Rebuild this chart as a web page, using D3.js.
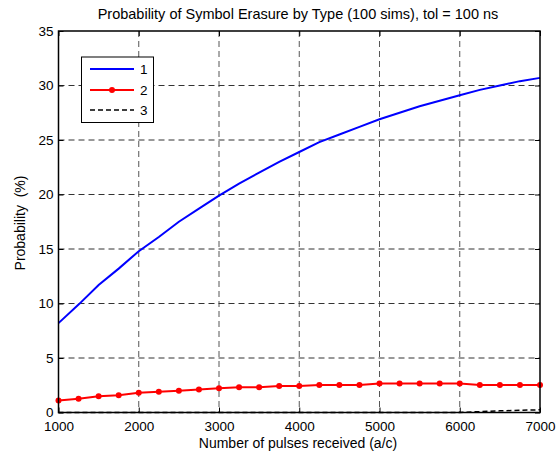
<!DOCTYPE html>
<html><head><meta charset="utf-8">
<script src="https://cdn.jsdelivr.net/npm/d3@7"></script>
<style>body{margin:0;background:#fff}svg{display:block}text{font-family:"Liberation Sans",Arial,sans-serif}</style>
</head><body><svg id="c" width="557" height="453"></svg>
<script>
const xVals = [1000,1250,1500,1750,2000,2250,2500,2750,3000,3250,3500,3750,4000,4250,4500,4750,5000,5250,5500,5750,6000,6250,6500,6750,7000];
const series1 = [8.2,9.9,11.7,13.2,14.8,16.1,17.5,18.7,19.9,21.0,22.0,23.0,23.9,24.8,25.5,26.2,26.9,27.5,28.1,28.6,29.1,29.6,30.0,30.4,30.7];
const series2 = [1.09,1.27,1.48,1.58,1.82,1.91,2.0,2.12,2.22,2.31,2.31,2.43,2.43,2.53,2.53,2.53,2.65,2.65,2.65,2.65,2.65,2.53,2.53,2.53,2.53];
const series3 = [0,0,0,0,0,0,0,0,0,0,0,0,0,0,0,0,0,0,0,0,0,0.08,0.15,0.2,0.25];
const xTicks = [1000,2000,3000,4000,5000,6000,7000];
const yTicks = [0,5,10,15,20,25,30,35];
const legendLabels = ["1","2","3"];
const titleText = "Probability of Symbol Erasure by Type (100 sims), tol = 100 ns";
const xLabel = "Number of pulses received (a/c)";
const yLabel = "Probability  (%)";

const svg = d3.select("#c");
const L=58.5, R=540, T=31, B=412.5;
const x = d3.scaleLinear().domain([1000,7000]).range([L,R]);
const y = d3.scaleLinear().domain([0,35]).range([B,T]);

// grid
const g = svg.append("g");
g.selectAll(".vg").data(xTicks.slice(1,-1)).join("line")
 .attr("x1",d=>x(d)).attr("x2",d=>x(d)).attr("y1",T).attr("y2",B)
 .attr("stroke","#555").attr("stroke-width",1).attr("stroke-dasharray","6,4");
g.selectAll(".hg").data(yTicks.slice(1,-1)).join("line")
 .attr("y1",d=>y(d)).attr("y2",d=>y(d)).attr("x1",L).attr("x2",R)
 .attr("stroke","#333").attr("stroke-width",1).attr("stroke-dasharray","6,4");

// axes
const fs = "13.5px";
const ax = svg.append("g").attr("transform",`translate(0,${B})`).call(d3.axisBottom(x).tickValues(xTicks).tickSize(-5).tickFormat(d3.format("d")));
const ay = svg.append("g").attr("transform",`translate(${L},0)`).call(d3.axisLeft(y).tickValues(yTicks).tickSize(-5).tickPadding(5));
const at = svg.append("g").attr("transform",`translate(0,${T})`).call(d3.axisTop(x).tickValues(xTicks).tickSize(-5).tickFormat(""));
const ar = svg.append("g").attr("transform",`translate(${R},0)`).call(d3.axisRight(y).tickValues(yTicks).tickSize(-5).tickFormat(""));
[ax,ay,at,ar].forEach(a=>{a.select(".domain").remove();a.selectAll("line").attr("stroke","#000");a.selectAll("text").attr("font-size",fs).attr("fill","#000").attr("font-family","Liberation Sans, Arial, sans-serif");});
ax.selectAll("text").attr("y",18.5).attr("dy",0);

// lines
const line = d3.line().x((d,i)=>x(xVals[i])).y(d=>y(d));
svg.append("path").datum(series3).attr("d",line).attr("fill","none").attr("stroke","#000").attr("stroke-width",1.5).attr("stroke-dasharray","5,3");
svg.append("path").datum(series1).attr("d",line).attr("fill","none").attr("stroke","#0000ff").attr("stroke-width",2);
svg.append("path").datum(series2).attr("d",line).attr("fill","none").attr("stroke","#ff0000").attr("stroke-width",2);
svg.selectAll(".m").data(series2).join("circle").attr("cx",(d,i)=>x(xVals[i])).attr("cy",d=>y(d)).attr("r",3).attr("fill","#ff0000");

// box
svg.append("rect").attr("x",L).attr("y",T).attr("width",R-L).attr("height",B-T).attr("fill","none").attr("stroke","#000").attr("stroke-width",1.5);

// legend
const lg = svg.append("g");
lg.append("rect").attr("x",81.5).attr("y",57).attr("width",72).attr("height",65.5).attr("fill","#fff").attr("stroke","#000").attr("stroke-width",1);
const ly = [69,90,110];
const colors = ["#0000ff","#ff0000","#000"];
legendLabels.forEach((lab,i)=>{
  const l = lg.append("line").attr("x1",90).attr("x2",134).attr("y1",ly[i]).attr("y2",ly[i]).attr("stroke",colors[i]).attr("stroke-width",i==2?1.5:2);
  if(i==2) l.attr("stroke-dasharray","5,3");
  if(i==1) lg.append("circle").attr("cx",112).attr("cy",ly[i]).attr("r",3).attr("fill","#ff0000");
  lg.append("text").attr("x",140).attr("y",ly[i]+5).attr("font-size","13.5px").text(lab);
});

// labels
svg.append("text").attr("x",298).attr("y",19).attr("text-anchor","middle").attr("font-size","14.5px").text(titleText);
svg.append("text").attr("x",298).attr("y",448).attr("text-anchor","middle").attr("font-size","14px").text(xLabel);
svg.append("text").attr("transform","translate(25,223) rotate(-90)").attr("text-anchor","middle").attr("font-size","14px").style("white-space","pre").text(yLabel);
</script></body></html>
